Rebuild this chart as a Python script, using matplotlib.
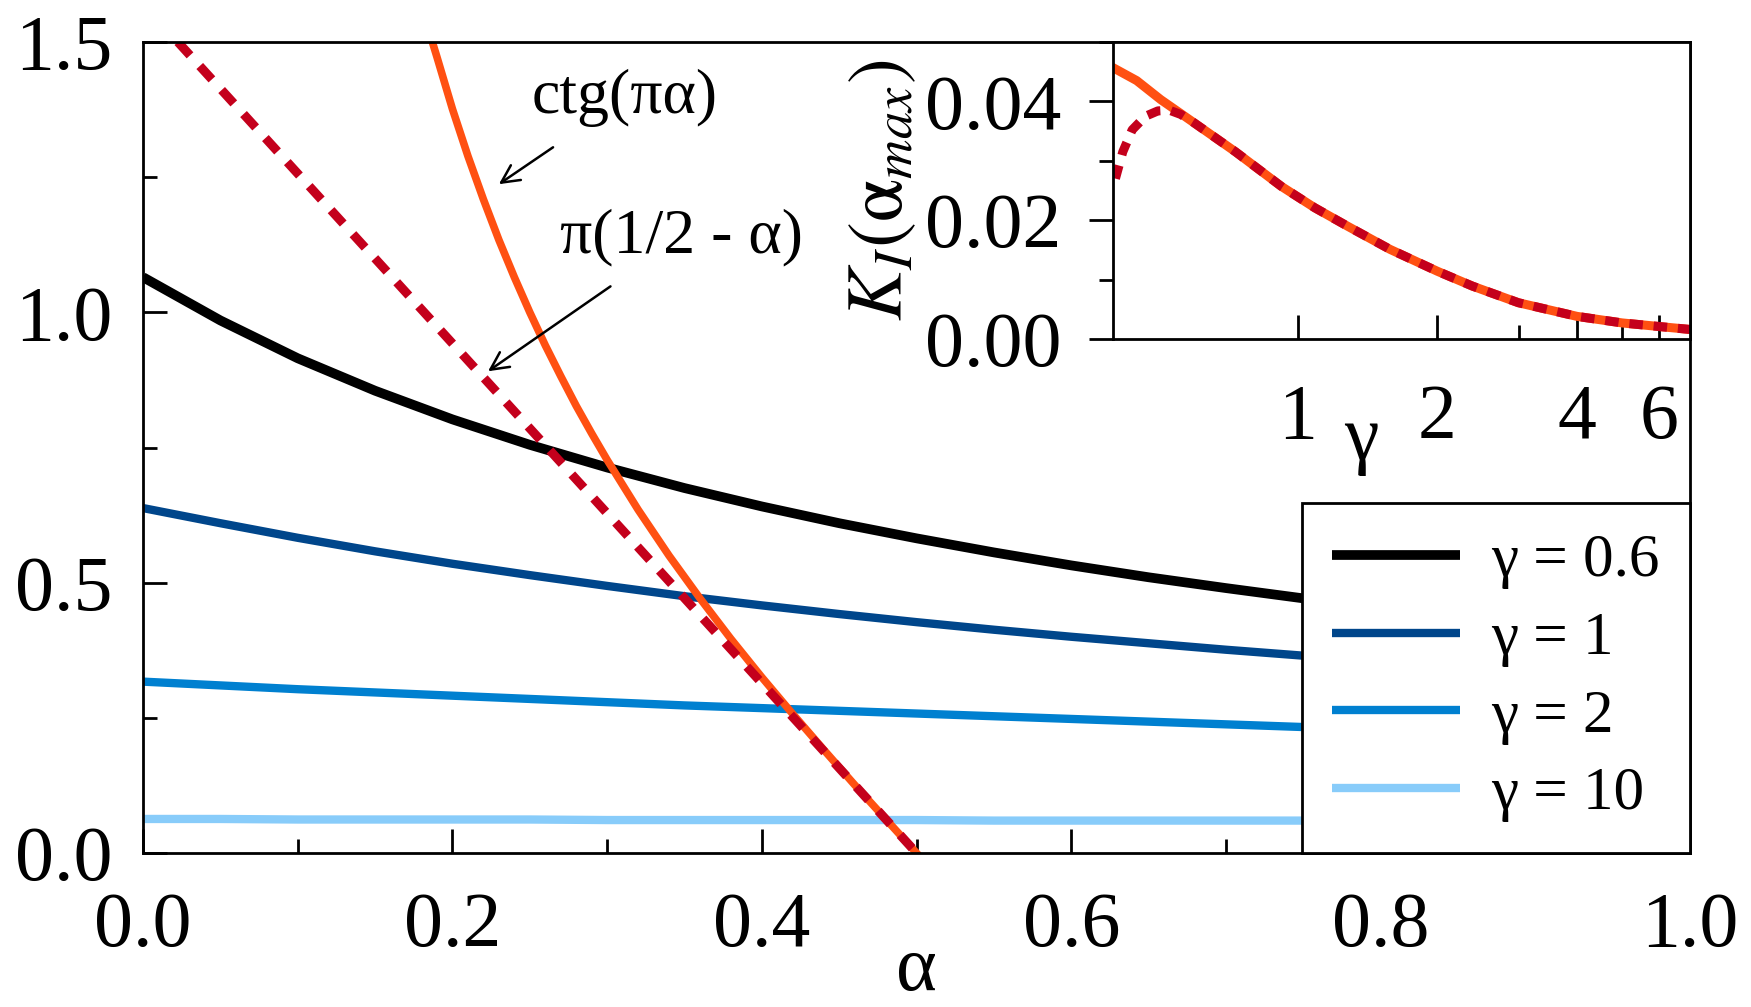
import numpy as np
import matplotlib
matplotlib.use("Agg")
import matplotlib.pyplot as plt
from matplotlib.ticker import FixedLocator, MultipleLocator, NullFormatter

plt.rcParams['font.family'] = ['Liberation Serif', 'DejaVu Serif']
plt.rcParams['mathtext.fontset'] = 'stix'

# main panel: curves
alpha = [0.0, 0.05, 0.1, 0.15, 0.2, 0.25, 0.3, 0.35, 0.4, 0.45, 0.5, 0.55, 0.6, 0.65, 0.7, 0.75]
g06 = [1.065, 0.985, 0.915, 0.855, 0.802, 0.755, 0.713, 0.675, 0.641, 0.610, 0.582, 0.556, 0.532, 0.510, 0.490, 0.471]
g1 = [0.638, 0.610, 0.583, 0.558, 0.535, 0.514, 0.494, 0.475, 0.458, 0.442, 0.427, 0.413, 0.400, 0.388, 0.376, 0.365]
g2 = [0.317, 0.310, 0.303, 0.297, 0.291, 0.285, 0.279, 0.273, 0.268, 0.263, 0.258, 0.253, 0.248, 0.243, 0.238, 0.233]
g10 = [0.063, 0.063, 0.062, 0.062, 0.062, 0.062, 0.061, 0.061, 0.061, 0.061, 0.061, 0.060, 0.060, 0.060, 0.060, 0.060]

ctg_a = [0.187, 0.19, 0.2, 0.21, 0.22, 0.23, 0.24, 0.25, 0.26, 0.27, 0.28, 0.29, 0.3,
         0.32, 0.34, 0.36, 0.38, 0.4, 0.42, 0.44, 0.46, 0.48, 0.5]
ctg_v = [1.50, 1.472, 1.376, 1.289, 1.209, 1.134, 1.065, 1.0, 0.939, 0.882, 0.827, 0.776, 0.727,
         0.635, 0.550, 0.471, 0.396, 0.325, 0.257, 0.191, 0.126, 0.063, 0.0]
lin_a = [0.0225, 0.26, 0.5]
lin_v = [1.50, 0.754, 0.0]

series = [g06, g1, g2, g10]
labels = ['γ = 0.6', 'γ = 1', 'γ = 2', 'γ = 10']
colors = ['#000000', '#00468b', '#0080d0', '#88ccfa']
widths = [7, 6, 6, 6]

# inset: K_I(alpha_max) vs gamma
gam = [0.404, 0.45, 0.507, 0.598, 0.735, 0.922, 1.088, 1.28, 1.58, 2.0, 2.38, 2.99, 4.0, 5.0, 6.0, 7.0]
k_solid = [0.0455, 0.0435, 0.0403, 0.0364, 0.0315, 0.0257, 0.0221, 0.0190, 0.0151, 0.0114, 0.0089, 0.0061, 0.0038, 0.0027, 0.0021, 0.0016]
gam_d = [0.405, 0.42, 0.44, 0.47, 0.5, 0.53, 0.56, 0.598, 0.735, 0.922, 1.088, 1.28, 1.58, 2.0, 2.38, 2.99, 4.0, 5.0, 6.0, 7.0]
k_dash = [0.027, 0.0315, 0.0352, 0.0375, 0.0384, 0.0385, 0.0378, 0.0364, 0.0315, 0.0257, 0.0221, 0.0190, 0.0151, 0.0114, 0.0089, 0.0061, 0.0038, 0.0027, 0.0021, 0.0016]

ORANGE = '#ff5012'
DRED = '#c4001c'
FS = 56

fig = plt.figure(figsize=(17.51, 10.07), dpi=100)
ax = fig.add_axes([0.0817, 0.1529, 0.8835, 0.8054])

for y, lab, c, w in zip(series, labels, colors, widths):
    ax.plot(alpha, y, color=c, lw=w, label=lab, solid_capstyle='butt')
ax.plot(ctg_a, ctg_v, color=ORANGE, lw=5.5)
ax.plot(lin_a, lin_v, color=DRED, lw=6.5, dashes=(2.0, 1.6))

ax.set_xlim(0, 1)
ax.set_ylim(0, 1.5)
ax.xaxis.set_major_locator(MultipleLocator(0.2))
ax.xaxis.set_minor_locator(MultipleLocator(0.1))
ax.yaxis.set_major_locator(MultipleLocator(0.5))
ax.yaxis.set_minor_locator(MultipleLocator(0.25))
ax.tick_params(which='both', direction='in', width=2, labelsize=FS)
ax.tick_params(which='major', length=17)
ax.tick_params(which='minor', length=10)
ax.tick_params(axis='x', which='major', pad=28)
ax.tick_params(axis='y', which='major', pad=22)
ax.xaxis.set_major_formatter(plt.FuncFormatter(lambda v, p: f'{v:.1f}'))
ax.yaxis.set_major_formatter(plt.FuncFormatter(lambda v, p: f'{v:.1f}'))
for s in ax.spines.values():
    s.set_linewidth(2)
ax.set_xlabel('α', fontsize=FS, labelpad=-20)

ax.annotate('ctg(πα)', xy=(0.230, 1.237), xytext=(0.3116, 1.396), fontsize=46,
            ha='center', va='center',
            arrowprops=dict(arrowstyle='->', color='black', lw=1.8, mutation_scale=32,
                            shrinkA=22, shrinkB=0))
ax.annotate('π(1/2 - α)', xy=(0.223, 0.891), xytext=(0.348, 1.139), fontsize=46,
            ha='center', va='center',
            arrowprops=dict(arrowstyle='->', color='black', lw=1.8, mutation_scale=32,
                            shrinkA=22, shrinkB=0))

leg = ax.legend(loc='lower right', borderaxespad=0, fontsize=44, frameon=True,
                fancybox=False, edgecolor='black', framealpha=1,
                handlelength=2.1, handletextpad=0.5, labelspacing=0.36,
                borderpad=0.5)
leg.get_frame().set_linewidth(2)

# inset
ins = fig.add_axes([0.6356, 0.6634, 0.3295, 0.2949])
ins.plot(gam, k_solid, color=ORANGE, lw=6.5)
ins.plot(gam_d, k_dash, color=DRED, lw=6.5, dashes=(1.5, 1.2))
ins.set_xscale('log')
ins.set_xlim(0.4, 7)
ins.set_ylim(0, 0.05)
ins.xaxis.set_major_locator(FixedLocator([1, 2, 4, 6]))
ins.xaxis.set_minor_locator(FixedLocator([3, 5]))
ins.xaxis.set_minor_formatter(NullFormatter())
ins.xaxis.set_major_formatter(plt.FuncFormatter(lambda v, p: f'{v:g}'))
ins.yaxis.set_major_locator(MultipleLocator(0.02))
ins.yaxis.set_minor_locator(MultipleLocator(0.01))
ins.yaxis.set_major_formatter(plt.FuncFormatter(lambda v, p: f'{v:.2f}'))
ins.tick_params(axis='x', which='both', direction='in', width=2, labelsize=FS, pad=32)
ins.tick_params(axis='y', which='both', direction='out', width=2, labelsize=FS, pad=20)
ins.tick_params(which='major', length=17)
ins.tick_params(which='minor', length=10)
for s in ins.spines.values():
    s.set_linewidth(2)
ins.set_ylabel(r'$K_I(\mathrm{\alpha}_{max})$', fontsize=56, labelpad=4)
ins.text(0.43, -0.34, 'γ', transform=ins.transAxes, fontsize=FS, ha='center', va='center')

fig.savefig('out.png', dpi=100)
